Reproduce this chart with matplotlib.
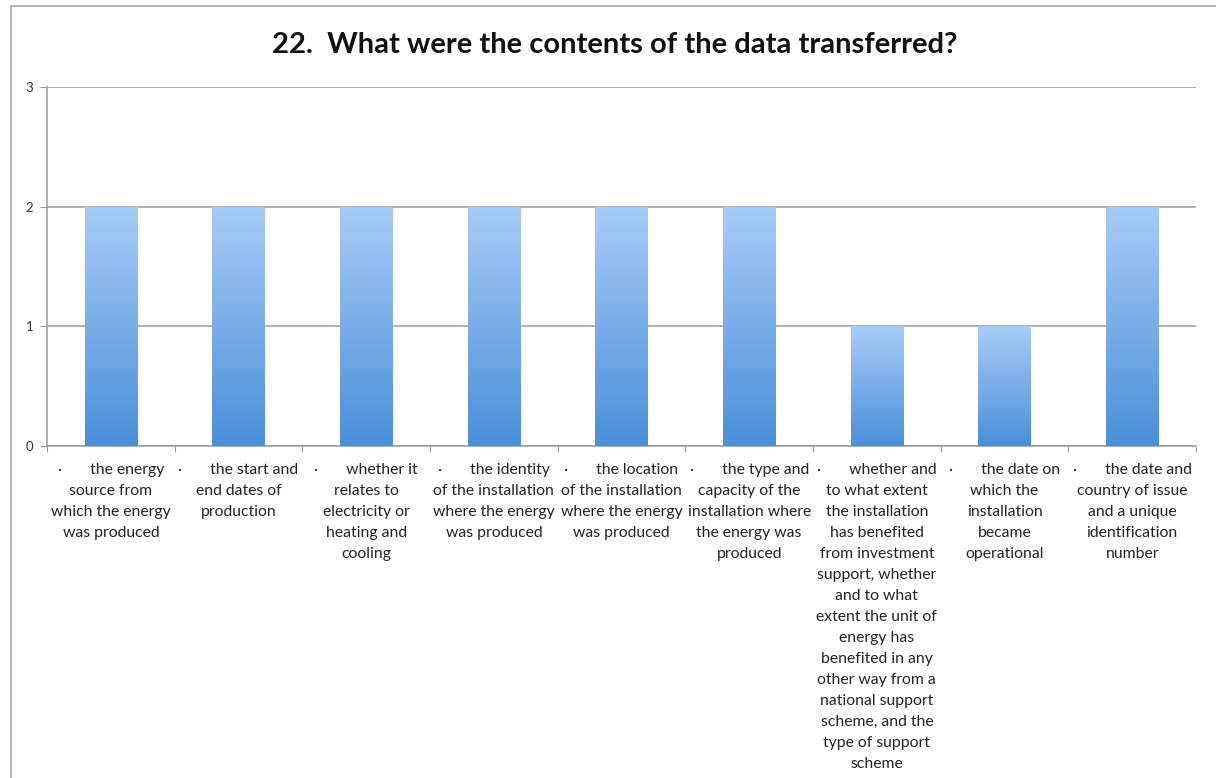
import numpy as np
import matplotlib.pyplot as plt
from matplotlib.patches import Rectangle

# data
categories = [
    "the energy\nsource from\nwhich the energy\nwas produced",
    "the start and\nend dates of\nproduction",
    "whether it\nrelates to\nelectricity or\nheating and\ncooling",
    "the identity\nof the installation\nwhere the energy\nwas produced",
    "the location\nof the installation\nwhere the energy\nwas produced",
    "the type and\ncapacity of the\ninstallation where\nthe energy was\nproduced",
    "whether and\nto what extent\nthe installation\nhas benefited\nfrom investment\nsupport, whether\nand to what\nextent the unit of\nenergy has\nbenefited in any\nother way from a\nnational support\nscheme, and the\ntype of support\nscheme",
    "the date on\nwhich the\ninstallation\nbecame\noperational",
    "the date and\ncountry of issue\nand a unique\nidentification\nnumber",
]
counts = [2, 2, 2, 2, 2, 2, 1, 1, 2]
y_ticks = [0, 1, 2, 3]
title = "22.  What were the contents of the data transferred?"

FONT = ["Lato", "DejaVu Sans"]
plt.rcParams['font.family'] = FONT

fig = plt.figure(figsize=(12.16, 7.78), dpi=100)
ax = fig.add_axes([47 / 1216, 1 - 446 / 778, (1196 - 47) / 1216, (446 - 87) / 778])

x = np.arange(len(counts))
bars = ax.bar(x, counts, width=0.41, color="none", edgecolor="none", zorder=3)

# vertical gradient for each bar
grad = np.linspace(0, 1, 256).reshape(-1, 1)
cmap = plt.matplotlib.colors.LinearSegmentedColormap.from_list("b", ["#4A8FD8", "#A8CCF8"])
for b in bars:
    x0, w, h = b.get_x(), b.get_width(), b.get_height()
    im = ax.imshow(grad, cmap=cmap, origin="lower", aspect="auto",
                   extent=[x0, x0 + w, 0, h], zorder=3)
    im.set_clip_path(b)

ax.set_xlim(-0.5, len(counts) - 0.5)
ax.set_ylim(0, 3)
ax.set_yticks(y_ticks)
ax.set_yticklabels([str(v) for v in y_ticks], fontsize=9.5, color="#333333")
ax.grid(axis="y", color="#9a9a9a", linewidth=1.1, zorder=0)
ax.tick_params(axis="y", length=5, color="#9a9a9a", pad=5)

for s in ["top", "right"]:
    ax.spines[s].set_visible(False)
ax.spines["left"].set_color("#9a9a9a")
ax.spines["bottom"].set_color("#9a9a9a")
ax.spines["left"].set_linewidth(1.1)
ax.spines["bottom"].set_linewidth(1.1)

# category boundary ticks
ax.set_xticks(np.arange(len(counts) + 1) - 0.5, minor=False)
ax.set_xticklabels([])
ax.tick_params(axis="x", length=4, color="#9a9a9a")

for i, lab in enumerate(categories):
    lines = lab.split("\n")
    lines[0] = "\u00b7       " + lines[0]
    ax.text(i, -0.139, "\n".join(lines), ha="center", va="top", fontsize=11.3,
            color="#222222", linespacing=1.64, transform=ax.transData)

fig.text(615 / 1216, 1 - 45 / 778, title, ha="center", va="center",
         fontsize=21, fontweight="bold", color="#111111")

# outer chart frame
fig.patches.append(Rectangle((11 / 1216, -0.05), 1.2, 1 - 6 / 778 + 0.05,
                             transform=fig.transFigure, fill=False,
                             edgecolor="#b5b5b5", linewidth=1.5))

fig.savefig("out.png", dpi=100)
